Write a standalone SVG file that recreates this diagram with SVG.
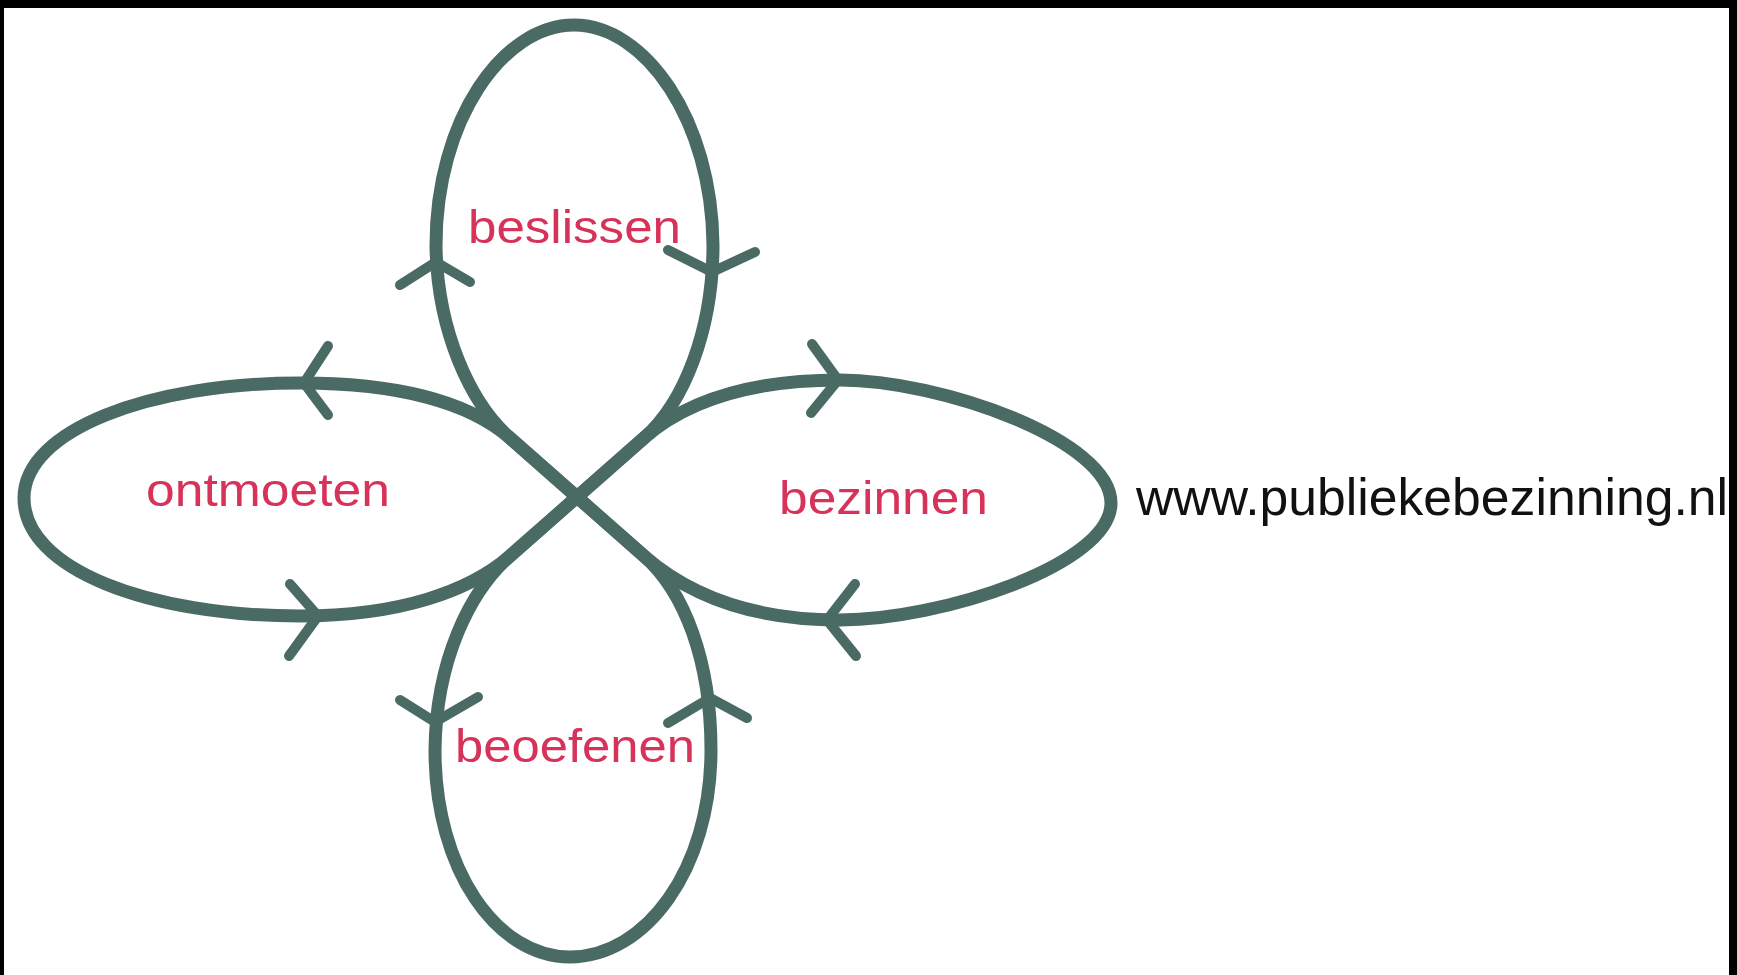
<svg xmlns="http://www.w3.org/2000/svg" width="1737" height="975" viewBox="0 0 1737 975">
<style>
.loop{fill:none;stroke:#4a6b63;stroke-width:13;stroke-linecap:round;stroke-linejoin:round}
.chev{fill:none;stroke:#4a6b63;stroke-width:10;stroke-linecap:round;stroke-linejoin:round}
.lbl{font-family:"Liberation Sans",Arial,sans-serif;font-size:46px;fill:#d6325a}
.url{font-family:"Liberation Sans",Arial,sans-serif;font-size:52px;fill:#111111}
</style>
<rect x="0" y="0" width="1737" height="975" fill="#ffffff"/>
<rect x="0" y="0" width="1737" height="8" fill="#000000"/>
<rect x="0" y="0" width="4" height="975" fill="#000000"/>
<rect x="1729" y="0" width="8" height="975" fill="#000000"/>
<g id="connectors">
<path class="loop" d="M 577 497 L 510 438 C 470 403, 437 330, 436 245 C 436 120, 503 25, 574 25 C 645 25, 712 120, 713 245 C 713 330, 684 403, 644 438 L 577 497"/>
<path class="loop" d="M 577 497 L 510 556 C 470 591, 436 660, 435 750 C 435 870, 497 957, 570 957 C 645 957, 711 870, 711 750 C 711 660, 684 591, 644 556 L 577 497"/>
<path class="loop" d="M 577 497 L 510 438 C 470 403, 400 383, 300 383 C 150 383, 24 430, 24 498 C 24 570, 150 616, 300 616 C 400 616, 470 591, 510 556 L 577 497"/>
<path class="loop" d="M 577 497 L 644 438 C 684 403, 745 380, 840 380 C 940 380, 1111 440, 1111 503 C 1111 565, 940 620, 840 620 C 745 620, 684 591, 644 556 L 577 497"/>
<path class="chev" d="M 400 285 L 436 262 L 470 282"/>
<path class="chev" d="M 668 250 L 712 272 L 755 252"/>
<path class="chev" d="M 400 700 L 435 722 L 478 697"/>
<path class="chev" d="M 668 723 L 710 698 L 747 718"/>
<path class="chev" d="M 328 346 L 304 383 L 328 415"/>
<path class="chev" d="M 290 584 L 318 616 L 289 656"/>
<path class="chev" d="M 812 344 L 838 380 L 811 413"/>
<path class="chev" d="M 855 584 L 827 620 L 856 656"/>
</g>
<g id="beslissen"><text class="lbl" x="468" y="243" textLength="213" lengthAdjust="spacingAndGlyphs">beslissen</text></g>
<g id="beoefenen"><text class="lbl" x="455" y="762" textLength="240" lengthAdjust="spacingAndGlyphs">beoefenen</text></g>
<g id="ontmoeten"><text class="lbl" x="146" y="506" textLength="244" lengthAdjust="spacingAndGlyphs">ontmoeten</text></g>
<g id="bezinnen"><text class="lbl" x="779" y="514" textLength="209" lengthAdjust="spacingAndGlyphs">bezinnen</text></g>
<g id="url"><text class="url" x="1136" y="515" textLength="592" lengthAdjust="spacingAndGlyphs">www.publiekebezinning.nl</text></g>
</svg>
